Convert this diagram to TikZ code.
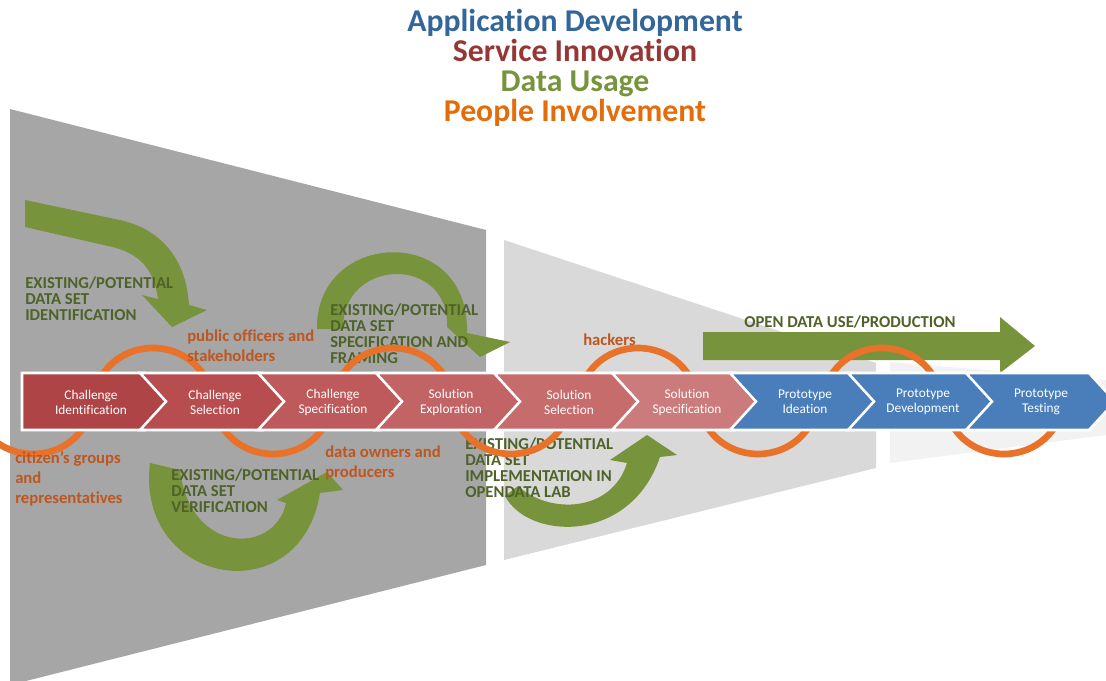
\documentclass[tikz,border=0pt]{standalone}
\usepackage{fontspec}
\setmainfont{Carlito}[Ligatures=NoCommon]
\definecolor{dgray}{HTML}{A6A6A6}
\definecolor{lgray}{HTML}{D9D9D9}
\definecolor{llgray}{HTML}{F2F2F2}
\definecolor{ringor}{HTML}{E8722A}
\definecolor{arrowgreen}{HTML}{77933C}
\definecolor{labgreen}{HTML}{4F6228}
\definecolor{laborange}{HTML}{BE5620}
\definecolor{cA}{HTML}{AE4446}
\definecolor{cB}{HTML}{B84D4F}
\definecolor{cC}{HTML}{BE5A5B}
\definecolor{cD}{HTML}{C26465}
\definecolor{cE}{HTML}{C66C6C}
\definecolor{cF}{HTML}{CB7B7B}
\definecolor{cblue}{HTML}{4A7EBB}
\definecolor{tblue}{HTML}{336699}
\definecolor{tred}{HTML}{953735}
\definecolor{tgreen}{HTML}{77933C}
\definecolor{torange}{HTML}{E46C0A}
\tikzset{
  chev/.style={draw=white, line width=1.9pt, line join=miter},
  chevtext/.style={text=white, font=\fontsize{10}{11.3}\selectfont, align=center, inner sep=0},
  ringarc/.style={draw=ringor, line width=5pt},
  garrow/.style={fill=arrowgreen},
  glabel/.style={text=labgreen, font=\fontsize{12.5}{11.8}\selectfont\bfseries, align=left, anchor=base west, inner sep=0},
  olabel/.style={text=laborange, font=\fontsize{12.5}{15}\selectfont\bfseries, align=left, anchor=base west, inner sep=0},
}
\begin{document}
\begin{tikzpicture}[x=0.75pt,y=-0.75pt]
\useasboundingbox (0,0) rectangle (1106,681);
\clip (0,0) rectangle (1106,681);
% funnels
\fill[dgray] (10,109) -- (486,230) -- (486,565) -- (10,685) -- cycle;
\fill[lgray] (504,240) -- (876,363) -- (876,468) -- (504,560) -- cycle;
\fill[llgray] (890,362) -- (1106,380) -- (1106,435) -- (890,463) -- cycle;
% green arrows
\fill[garrow] (25,200) -- (115,219) .. controls (160,227) and (186,258) .. (189,305) -- (207,310) -- (172,327) -- (142,295) -- (158,299) .. controls (154,268) and (138,252) .. (108,246) -- (25,227) -- cycle;
\fill[garrow] (317,329) .. controls (315,230) and (470,222) .. (467,333) -- (510,342) -- (480,357) -- (447,327) .. controls (450,255) and (342,257) .. (343,329) -- cycle;
\fill[garrow] (150,463) .. controls (135,585) and (300,615) .. (320,493) -- (343,490) -- (327,472) -- (277,500) -- (286,503) .. controls (275,555) and (190,555) .. (180,470) -- cycle;
\fill[garrow] (505,496) .. controls (528,540) and (630,545) .. (660,457) -- (677,455) -- (647,435) -- (610,460) -- (627,463) .. controls (612,512) and (550,515) .. (518,486) -- cycle;
\fill[garrow] (703,332) -- (1000,332) -- (1000,317) -- (1035,346) -- (1000,373) -- (1000,360) -- (703,360) -- cycle;
% green labels (anchor = baseline of last line)
\node[glabel] (g1) at (25,320) {EXISTING/POTENTIAL\\DATA SET\\IDENTIFICATION};
\node[glabel] (g2) at (330,363) {EXISTING/POTENTIAL\\DATA SET\\SPECIFICATION AND\\FRAMING};
\node[glabel] (g3) at (171,512) {EXISTING/POTENTIAL\\DATA SET\\VERIFICATION};
\node[glabel] (g4) at (465,497) {EXISTING/POTENTIAL\\DATA SET\\IMPLEMENTATION IN\\OPENDATA LAB};
\node[glabel] (g5) at (744,327) {OPEN DATA USE/PRODUCTION};
% orange rings
\foreach \c in {33,273,511,758,1004}
  \draw[ringarc] (\c-58,401) arc[start angle=180, end angle=0, x radius=58, y radius=53];
\foreach \c in {153,393,638,882}
  \draw[ringarc] (\c-58,401) arc[start angle=180, end angle=360, x radius=58, y radius=53];
% people labels
\node[olabel] (p1) at (187,361) {public officers and\\stakeholders};
\node[olabel] (p2) at (15,503) {citizen’s groups\\and\\representatives};
\node[olabel] (p3) at (325,477) {data owners and\\producers};
\node[olabel] (p4) at (583,345) {hackers};
% chevrons
\filldraw[chev, fill=cA] (22,373) -- (145,373) -- (171,401.5) -- (145,430) -- (22,430) -- cycle;
\foreach \k/\col in {1/cB,2/cC,3/cD,4/cE,5/cF,6/cblue,7/cblue,8/cblue}
  \filldraw[chev, fill=\col] (22+118*\k,373) -- ++(123,0) -- ++(26,28.5) -- ++(-26,28.5) -- ++(-123,0) -- ++(26,-28.5) -- cycle;
\node[chevtext] (s1) at (91,402) {Challenge\\Identification};
\node[chevtext] (s2) at (215,402) {Challenge\\Selection};
\node[chevtext] (s3) at (333,402) {Challenge\\Specification};
\node[chevtext] (s4) at (451,402) {Solution\\Exploration};
\node[chevtext] (s5) at (569,402) {Solution\\Selection};
\node[chevtext] (s6) at (687,402) {Solution\\Specification};
\node[chevtext] (s7) at (805,402) {Prototype\\Ideation};
\node[chevtext] (s8) at (923,402) {Prototype\\Development};
\node[chevtext] (s9) at (1041,402) {Prototype\\Testing};
% title
\node[font=\fontsize{23.8}{22.5}\selectfont\bfseries, align=center, anchor=base, inner sep=0] (title) at (575,121.7)
  {\textcolor{tblue}{Application Development}\\\textcolor{tred}{Service Innovation}\\\textcolor{tgreen}{Data Usage}\\\textcolor{torange}{People Involvement}};
\end{tikzpicture}
\end{document}
